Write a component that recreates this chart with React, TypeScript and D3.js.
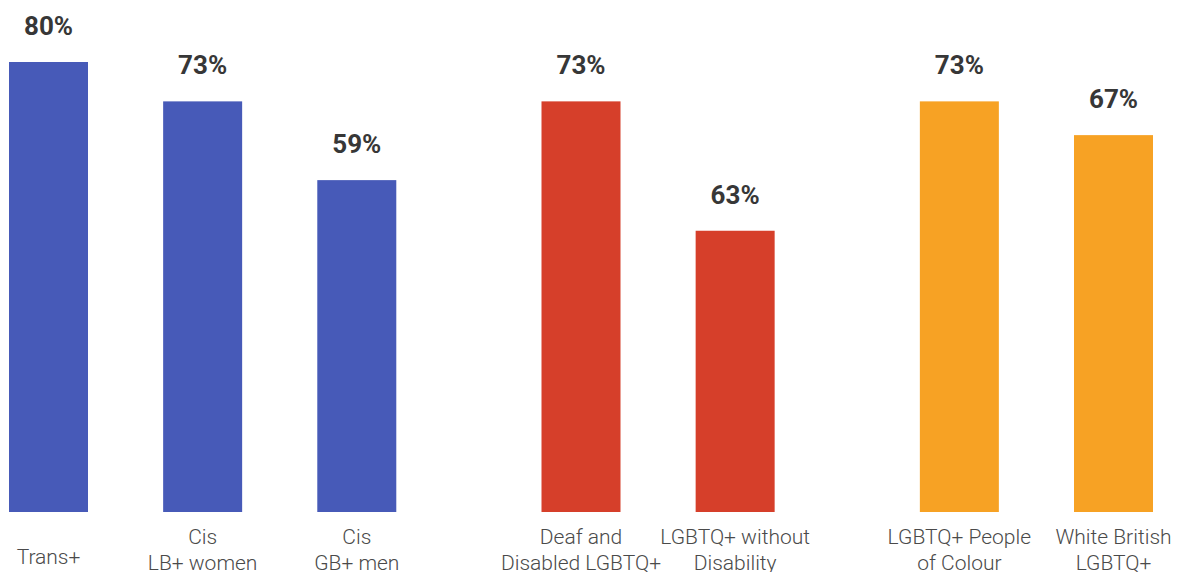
import React, { useEffect } from "react";
import * as d3 from "d3";

const categories: string[][] = [
  ["Trans+"],
  ["Cis", "LB+ women"],
  ["Cis", "GB+ men"],
  ["Deaf and", "Disabled LGBTQ+"],
  ["LGBTQ+ without", "Disability"],
  ["LGBTQ+ People", "of Colour"],
  ["White British", "LGBTQ+"],
];
const groups = [0, 0, 0, 1, 1, 2, 2];
const barValues = [80, 73, 59, 73, 50, 73, 67];
const valueLabels = ["80%", "73%", "59%", "73%", "63%", "73%", "67%"];
const groupColors = ["#475AB8", "#D63F2A", "#F7A224"];

const W = 1179;
const H = 572;

export default function App() {
  useEffect(() => {
    document.body.style.margin = "0";
  }, []);

  const groupGap = 70 / 154;
  const slot = (i: number) => i + groups[i] * groupGap;
  const x = d3.scaleLinear().domain([0, slot(6)]).range([9, 1074]);
  const barW = 79;
  const y = d3.scaleLinear().domain([0, 80]).range([512, 62]);

  return (
    <svg width={W} height={H} style={{ display: "block" }}>
      <rect width={W} height={H} fill="#ffffff" />
      {barValues.map((v, i) => {
        const x0 = x(slot(i));
        const cx = x0 + barW / 2;
        const top = y(v);
        const lines = categories[i];
        return (
          <g key={i}>
            <rect x={x0} y={top} width={barW} height={y(0) - top} fill={groupColors[groups[i]]} />
            <text
              x={cx}
              y={top - 27}
              textAnchor="middle"
              fontFamily="Roboto"
              fontWeight={700}
              fontSize={26}
              fill="#373737"
            >
              {valueLabels[i]}
            </text>
            {lines.length === 1 ? (
              <text x={cx} y={564} textAnchor="middle" fontFamily="Roboto" fontWeight={300} fontSize={21} fill="#4a4a4a">
                {lines[0]}
              </text>
            ) : (
              lines.map((l, j) => (
                <text
                  key={j}
                  x={cx}
                  y={544 + j * 26}
                  textAnchor="middle"
                  fontFamily="Roboto"
                  fontWeight={300}
                  fontSize={21}
                  fill="#4a4a4a"
                >
                  {l}
                </text>
              ))
            )}
          </g>
        );
      })}
    </svg>
  );
}
